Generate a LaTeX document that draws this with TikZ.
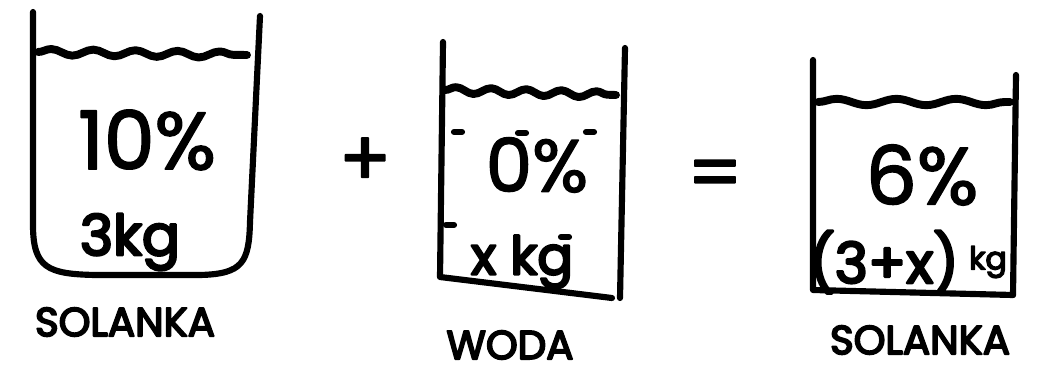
\documentclass[tikz,border=0pt]{standalone}
\usepackage{fontspec}
\setmainfont{Poppins}
\newfontfamily\handfont{Poppins}[FakeBold=2]
\newfontfamily\smallhand{Poppins}[FakeBold=4.5]
\usetikzlibrary{decorations.pathmorphing}

\begin{document}
\begin{tikzpicture}[
        x=0.02cm, y=-0.02cm,
        line cap=round, line join=round,
        line width=3.5pt,
        wave/.style={line width=4.5pt, decorate, decoration={snake, amplitude=1.8pt, segment length=#1}},
        percent/.style={font=\fontsize{#1}{#1}\selectfont\handfont, inner sep=0pt},
        mass/.style={font=\fontsize{#1}{#1}\selectfont\smallhand, inner sep=0pt},
        label/.style={font=\fontsize{23}{23}\selectfont\smallhand, inner sep=0pt}
    ]
    \useasboundingbox (0,0) rectangle (1038,385);
    % first beaker
    \draw (33,12) -- (33,225)
    .. controls (33,268) and (48,274) .. (95,275) -- (200,275)
    .. controls (243,274) and (249,262) .. (250,222) -- (260,16);
    \draw[wave=24pt] (38,52) -- (247,55);
    \node[percent=46] (conc1) at (147,140) {10\%};
    \node[mass=32] (mass1) at (130,242) {3kg};
    \node[label] (name1) at (125,322) {SOLANKA};
    \node[percent=44] (plus) at (365,162) {+};
    % second beaker
    \draw (443,42) -- (440,277) -- (612,298);
    \draw (625,48) -- (620,298);
    \draw[wave=20pt] (445,90) -- (616,95);
    \foreach \x/\y in {458/132, 522/133, 590/132, 450/225, 565/237}
        \draw (\x-4,\y) -- (\x+4,\y);
    \node[percent=42] (conc2) at (537,165) {0\%};
    \node[mass=30] (mass2) at (522,262) {x kg};
    \node[label] (name2) at (510,345) {WODA};
    \node[percent=44] (equals) at (715,180) {=};
    % third beaker
    \draw (813,60) -- (813,290) -- (1013,295);
    \draw (1016,75) -- (1013,295);
    \draw[wave=34pt] (818,102) -- (1010,102);
    \node[percent=46] (conc3) at (922,175) {6\%};
    \node[mass=32] (mass3) at (884,262) {(3+x)};
    \node[mass=18] (unit3) at (988,262) {kg};
    \node[label] (name3) at (920,340) {SOLANKA};
\end{tikzpicture}
\end{document}
